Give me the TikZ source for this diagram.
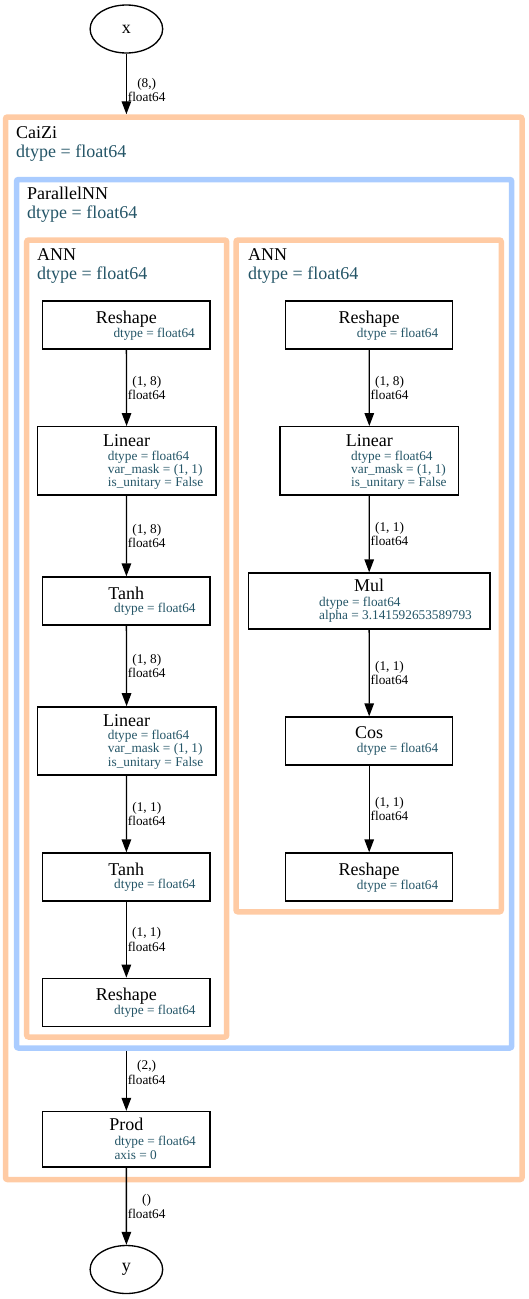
\documentclass[tikz,border=0pt]{standalone}
\usepackage{fontspec}
\setmainfont{Liberation Serif}
\usetikzlibrary{arrows.meta,shapes.geometric}
\definecolor{peach}{HTML}{FFCBA4}
\definecolor{skyb}{HTML}{AACCFF}
\definecolor{tealtx}{HTML}{245567}
\begin{document}
\begin{tikzpicture}[x=1pt,y=-1pt,
  box/.style={draw, line width=1.33pt, inner sep=0pt, fill=white},
  ttl/.style={font=\fontsize{18}{20}\selectfont, anchor=base, inner sep=0pt},
  rowtx/.style={font=\fontsize{13.3}{14}\selectfont, text=tealtx, anchor=base west, inner sep=0pt},
  clt/.style={font=\fontsize{18}{20}\selectfont, anchor=base west, inner sep=0pt},
  cld/.style={clt, text=tealtx},
  corange/.style={draw=peach, line width=5.5pt, rounded corners=2pt, inner sep=0pt},
  cblue/.style={draw=skyb, line width=5.5pt, rounded corners=2pt, inner sep=0pt},
  elabel/.style={font=\fontsize{13.3}{14.5}\selectfont, align=center, anchor=west, inner sep=0pt, xshift=0.8pt},
  arr/.style={-{Triangle[length=13pt,width=9.5pt]}, line width=1.33pt},
  term/.style={draw, ellipse, line width=1.33pt, minimum width=72.6pt, minimum height=48pt, inner sep=0pt, font=\fontsize{18}{20}\selectfont}
]
\useasboundingbox (0,0) rectangle (528,1299);

% clusters
\node[corange, minimum width=516.5pt, minimum height=1062.5pt] (caizi) at (263.75,648.25) {};
\node[clt] (caizit) at (16,138) {CaiZi};
\node[cld] (caizid) at (16,157) {dtype = float64};

\node[cblue, minimum width=495.2pt, minimum height=868.5pt] (pnn) at (264.1,613.75) {};
\node[clt] (pnnt) at (27,199) {ParallelNN};
\node[cld] (pnnd) at (27,218) {dtype = float64};

\node[corange, minimum width=200pt, minimum height=797pt] (annl) at (126.7,638.5) {};
\node[clt] (annlt) at (37,260) {ANN};
\node[cld] (annld) at (37,279) {dtype = float64};

\node[corange, minimum width=265.3pt, minimum height=671.8pt] (annr) at (368.65,575.9) {};
\node[clt] (annrt) at (248,260) {ANN};
\node[cld] (annrd) at (248,279) {dtype = float64};

% terminals
\node[term] (x) at (126.4,29) {x};
\node[term] (y) at (126.4,1269.5) {y};

% left column
\node[box, minimum width=167.3pt, minimum height=48pt] (l1) at (126.35,325) {};
\node[ttl] (l1t) at (126.35,323) {Reshape};
\node[rowtx] (l1a) at (113.3,337) {dtype = float64};

\node[box, minimum width=178.7pt, minimum height=68.3pt] (l2) at (126.65,460.85) {};
\node[ttl] (l2t) at (126.5,446.7) {Linear};
\node[rowtx] (l2a) at (107.7,460) {dtype = float64};
\node[rowtx] (l2b) at (107.7,473.3) {var\_mask = (1, 1)};
\node[rowtx] (l2c) at (107.7,486.7) {is\_unitary = False};

\node[box, minimum width=167.3pt, minimum height=48pt] (l3) at (126.35,601) {};
\node[ttl] (l3t) at (126.35,599) {Tanh};
\node[rowtx] (l3a) at (114,612.5) {dtype = float64};

\node[box, minimum width=178.7pt, minimum height=68.3pt] (l4) at (126.65,741) {};
\node[ttl] (l4t) at (126.5,726.5) {Linear};
\node[rowtx] (l4a) at (107.7,739.5) {dtype = float64};
\node[rowtx] (l4b) at (107.7,752.8) {var\_mask = (1, 1)};
\node[rowtx] (l4c) at (107.7,766.2) {is\_unitary = False};

\node[box, minimum width=167.3pt, minimum height=48pt] (l5) at (126.35,877) {};
\node[ttl] (l5t) at (126.35,875) {Tanh};
\node[rowtx] (l5a) at (114,888.5) {dtype = float64};

\node[box, minimum width=167.3pt, minimum height=48pt] (l6) at (126.35,1002.3) {};
\node[ttl] (l6t) at (126.35,1000.3) {Reshape};
\node[rowtx] (l6a) at (114,1014.8) {dtype = float64};

% prod
\node[box, minimum width=167.3pt, minimum height=55.5pt] (prod) at (126.35,1139.25) {};
\node[ttl] (prodt) at (126.35,1130.7) {Prod};
\node[rowtx] (proda) at (114.3,1145) {dtype = float64};
\node[rowtx] (prodb) at (114.3,1159) {axis = 0};

% right column
\node[box, minimum width=167pt, minimum height=48pt] (r1) at (369.2,325) {};
\node[ttl] (r1t) at (369.2,323) {Reshape};
\node[rowtx] (r1a) at (356.7,337) {dtype = float64};

\node[box, minimum width=178.7pt, minimum height=68.3pt] (r2) at (369.35,460.85) {};
\node[ttl] (r2t) at (369.3,446.7) {Linear};
\node[rowtx] (r2a) at (351,460) {dtype = float64};
\node[rowtx] (r2b) at (351,473.3) {var\_mask = (1, 1)};
\node[rowtx] (r2c) at (351,486.7) {is\_unitary = False};

\node[box, minimum width=241.7pt, minimum height=56pt] (r3) at (369.15,601) {};
\node[ttl] (r3t) at (369.15,591.7) {Mul};
\node[rowtx] (r3a) at (319,606.7) {dtype = float64};
\node[rowtx] (r3b) at (319,619.5) {alpha = 3.141592653589793};

\node[box, minimum width=167pt, minimum height=48pt] (r4) at (369.2,741) {};
\node[ttl] (r4t) at (369.2,738.3) {Cos};
\node[rowtx] (r4a) at (356.7,752.7) {dtype = float64};

\node[box, minimum width=167pt, minimum height=48pt] (r5) at (369.2,877) {};
\node[ttl] (r5t) at (369.2,875) {Reshape};
\node[rowtx] (r5a) at (356.7,889) {dtype = float64};

% edges
\draw[arr] (x.south) -- node[elabel, pos=0.6] {(8,)\\float64} (x.south |- caizi.north);
\draw[arr] (l1) -- node[elabel] {(1, 8)\\float64} (l2);
\draw[arr] (l2) -- node[elabel] {(1, 8)\\float64} (l3);
\draw[arr] (l3) -- node[elabel] {(1, 8)\\float64} (l4);
\draw[arr] (l4) -- node[elabel] {(1, 1)\\float64} (l5);
\draw[arr] (l5) -- node[elabel] {(1, 1)\\float64} (l6);
\draw[arr] (r1) -- node[elabel] {(1, 8)\\float64} (r2);
\draw[arr] (r2) -- node[elabel] {(1, 1)\\float64} (r3);
\draw[arr] (r3) -- node[elabel] {(1, 1)\\float64} (r4);
\draw[arr] (r4) -- node[elabel] {(1, 1)\\float64} (r5);
\draw[arr] (prod.north |- pnn.south) -- node[elabel, pos=0.36] {(2,)\\float64} (prod.north);
\draw[arr] (prod.south) -- node[elabel] {()\\float64} (y.north);
\end{tikzpicture}
\end{document}
